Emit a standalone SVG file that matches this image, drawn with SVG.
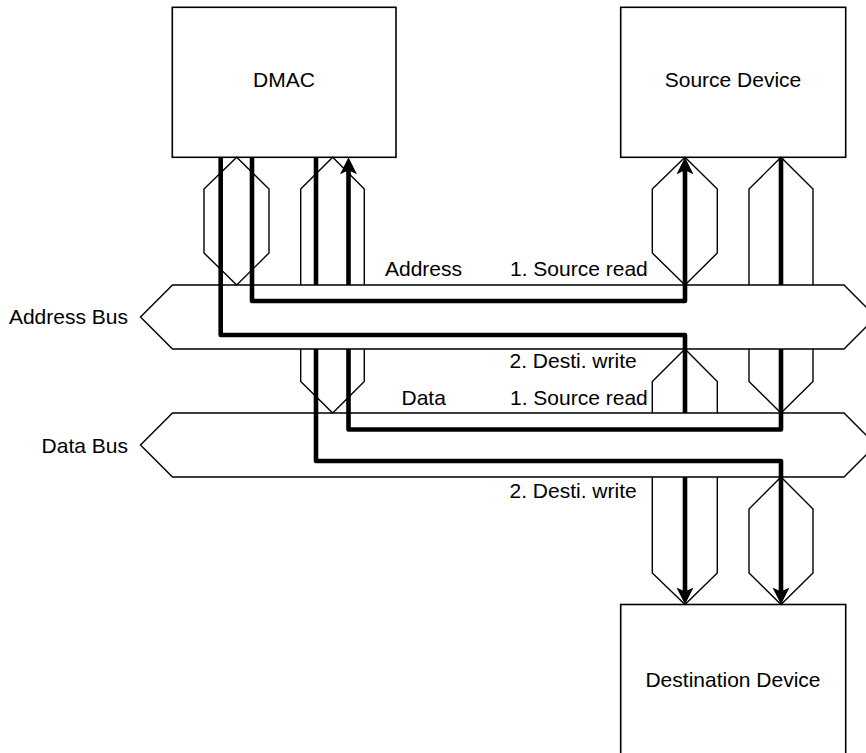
<svg xmlns="http://www.w3.org/2000/svg" width="866" height="753" viewBox="0 0 866 753">
<defs>
<style>
.box{fill:#fff;stroke:#000;stroke-width:1.6}
.bus{fill:#fff;stroke:#000;stroke-width:1.4}
.hex{fill:none;stroke:#000;stroke-width:1.4;stroke-linejoin:miter}
.thick{fill:none;stroke:#000;stroke-width:4.6;stroke-linejoin:round}
.arr{marker-end:url(#ah)}
text{font-family:"Liberation Sans",Arial,sans-serif;font-size:21px;fill:#000}
.c{text-anchor:middle}
.e{text-anchor:end}
</style>
<marker id="ah" markerUnits="userSpaceOnUse" viewBox="0 -9 18 18" refX="7" refY="0" markerWidth="18" markerHeight="18" orient="auto">
<path d="M0,-8.5 L17,0 L0,8.5 L4,0 Z" fill="#000"/>
</marker>
</defs>
<rect width="866" height="753" fill="#fff"/>

<g id="address-bus">
<polygon class="bus" points="172.5,285 844,285 876,317 844,349 172.5,349 140.5,317"/>
<text class="e" x="128" y="324">Address Bus</text>
</g>
<g id="data-bus">
<polygon class="bus" points="172.5,413 844,413 876,445 844,477 172.5,477 140.5,445"/>
<text class="e" x="128" y="452.5">Data Bus</text>
</g>

<g id="dmac">
<rect class="box" x="172.3" y="7.3" width="223.7" height="150"/>
<text class="c" x="284" y="87.3">DMAC</text>
</g>
<g id="source">
<rect class="box" x="620.7" y="7.3" width="225" height="150"/>
<text class="c" x="733" y="87.3">Source Device</text>
</g>
<g id="destination">
<rect class="box" x="620.7" y="604.5" width="225" height="160"/>
<text class="c" x="733" y="687.3">Destination Device</text>
</g>

<g id="bus-taps">
<polygon class="hex" points="236.7,157.3 269,189 269,253 236.7,285 204,253 204,189"/>
<polyline class="hex" points="300.7,285 300.7,189 332.7,157.3 364.3,189 364.3,285"/>
<polyline class="hex" points="300.7,349 300.7,381.5 332.7,413 364.3,381.5 364.3,349"/>
<polygon class="hex" points="685,157.3 717.3,189 717.3,253 685,285 652.3,253 652.3,189"/>
<polyline class="hex" points="749,285 749,189 781,157.3 813,189 813,285"/>
<polyline class="hex" points="652.3,413 652.3,381.5 685,349 717.3,381.5 717.3,413"/>
<polyline class="hex" points="749,349 749,381.5 781,413 813,381.5 813,349"/>
<polyline class="hex" points="652.3,477 652.3,573 685,604.5 717.3,573 717.3,477"/>
<polygon class="hex" points="781,477 813,509 813,573 781,604.5 749,573 749,509"/>
</g>

<g id="connectors">
<path class="thick" d="M220.7,157.3 V335 H685 V413"/>
<path class="thick arr" d="M685,477 V594.5"/>
<path class="thick arr" d="M252,157.3 V301 H685 V167.3"/>
<path class="thick" d="M316,157.3 V285"/>
<path class="thick arr" d="M316,349 V461 H781 V594.5"/>
<path class="thick" d="M781,157.3 V285"/>
<path class="thick" d="M781,349 V429.5 H348.5 V349"/>
<path class="thick arr" d="M348.5,285 V167.3"/>
</g>

<g id="labels">
<text x="385" y="276">Address</text>
<text x="510" y="276">1. Source read</text>
<text x="509.5" y="368">2. Desti. write</text>
<text x="401.5" y="405">Data</text>
<text x="510" y="405">1. Source read</text>
<text x="509.5" y="498">2. Desti. write</text>
</g>
</svg>
